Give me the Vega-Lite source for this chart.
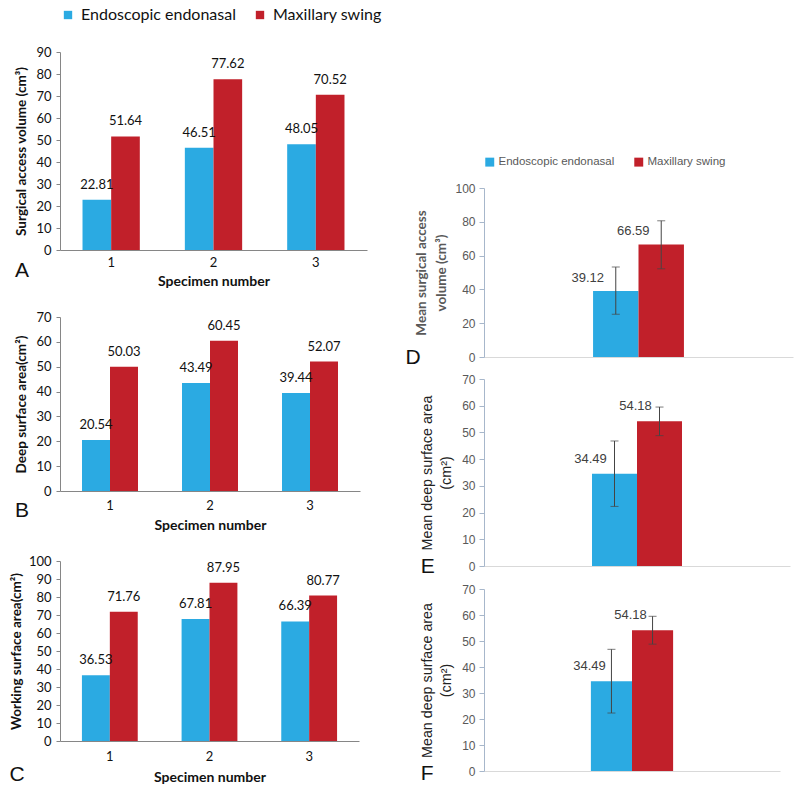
{
  "$schema": "https://vega.github.io/schema/vega-lite/v6.json",
  "padding": {"left": 9, "top": 7, "right": 4, "bottom": 0},
  "background": "white",
  "config": {
    "font": "Lato",
    "view": {"stroke": null},
    "axis": {"grid": false, "labelOverlap": false, "labelBound": false},
    "bar": {"stroke": null}
  },
  "datasets": {
    "A": [
      {"specimen": "1", "approach": "Endoscopic endonasal", "value": 22.81},
      {"specimen": "1", "approach": "Maxillary swing", "value": 51.64},
      {"specimen": "2", "approach": "Endoscopic endonasal", "value": 46.51},
      {"specimen": "2", "approach": "Maxillary swing", "value": 77.62},
      {"specimen": "3", "approach": "Endoscopic endonasal", "value": 48.05},
      {"specimen": "3", "approach": "Maxillary swing", "value": 70.52}
    ],
    "B": [
      {"specimen": "1", "approach": "Endoscopic endonasal", "value": 20.54},
      {"specimen": "1", "approach": "Maxillary swing", "value": 50.03},
      {"specimen": "2", "approach": "Endoscopic endonasal", "value": 43.49},
      {"specimen": "2", "approach": "Maxillary swing", "value": 60.45},
      {"specimen": "3", "approach": "Endoscopic endonasal", "value": 39.44},
      {"specimen": "3", "approach": "Maxillary swing", "value": 52.07}
    ],
    "C": [
      {"specimen": "1", "approach": "Endoscopic endonasal", "value": 36.53},
      {"specimen": "1", "approach": "Maxillary swing", "value": 71.76},
      {"specimen": "2", "approach": "Endoscopic endonasal", "value": 67.81},
      {"specimen": "2", "approach": "Maxillary swing", "value": 87.95},
      {"specimen": "3", "approach": "Endoscopic endonasal", "value": 66.39},
      {"specimen": "3", "approach": "Maxillary swing", "value": 80.77}
    ],
    "D": [
      {"g": "mean", "approach": "Endoscopic endonasal", "value": 39.12, "lo": 25.3, "hi": 53.2},
      {"g": "mean", "approach": "Maxillary swing", "value": 66.59, "lo": 52.2, "hi": 80.6}
    ],
    "E": [
      {"g": "mean", "approach": "Endoscopic endonasal", "value": 34.49, "lo": 22.3, "hi": 46.8},
      {"g": "mean", "approach": "Maxillary swing", "value": 54.18, "lo": 48.8, "hi": 59.5}
    ],
    "F": [
      {"g": "mean", "approach": "Endoscopic endonasal", "value": 34.49, "lo": 22.3, "hi": 46.8},
      {"g": "mean", "approach": "Maxillary swing", "value": 54.18, "lo": 48.8, "hi": 59.5}
    ]
  },
  "resolve": {"scale": {"color": "independent", "xOffset": "independent", "x": "independent", "y": "independent"}},
  "spacing": 23,
  "hconcat": [
    {
      "resolve": {"scale": {"color": "independent", "xOffset": "independent", "x": "independent", "y": "independent"}},
      "spacing": 23,
      "vconcat": [
        {
          "width": 307, "height": 198,
          "data": {"name": "A"},
          "title": {"text": "A", "orient": "bottom", "anchor": "start", "frame": "bounds", "offset": -28, "fontSize": 21, "fontWeight": "normal", "font": "Liberation Sans", "baseline": "top", "color": "#111"},
          "encoding": {
            "x": {"field": "specimen", "type": "nominal", "scale": {"paddingInner": 0.44, "paddingOuter": 0.22},
              "axis": {"title": "Specimen number", "labelAngle": 0, "ticks": false, "domainColor": "#868686", "labelFont": "Lato", "labelFontSize": 13, "labelColor": "#111", "labelPadding": 6, "titleFont": "Lato", "titleFontSize": 14, "titleFontWeight": "bold", "titleColor": "#111", "titlePadding": 5}},
            "xOffset": {"field": "approach", "type": "nominal", "sort": ["Endoscopic endonasal", "Maxillary swing"], "scale": {"paddingInner": 0, "paddingOuter": 0}},
            "y": {"field": "value", "type": "quantitative", "title": "Surgical access volume (cm³)", "scale": {"domain": [0, 90], "nice": false},
              "axis": {"values": [0, 10, 20, 30, 40, 50, 60, 70, 80, 90], "domainColor": "#868686", "tickColor": "#868686", "tickSize": 4, "labelFont": "Lato", "labelFontSize": 13, "labelColor": "#111", "labelPadding": 5, "titleFont": "Lato", "titleFontSize": 13.5, "titleFontWeight": "bold", "titleColor": "#111", "titlePadding": 7}},
            "color": {"field": "approach", "type": "nominal", "scale": {"domain": ["Endoscopic endonasal", "Maxillary swing"], "range": ["#2BAAE2", "#C1202A"]},
              "legend": {"title": null, "orient": "top", "direction": "horizontal", "symbolType": "square", "symbolSize": 70, "labelFont": "Lato", "labelFontSize": 16, "labelColor": "#111", "columnPadding": 16, "offset": 29, "labelOffset": 5, "padding": 0, "symbolOffset": 0}}
          },
          "layer": [
            {"mark": {"type": "bar"}},
            {"mark": {"type": "text", "baseline": "bottom", "dy": -8, "font": "Lato", "fontSize": 13},
              "encoding": {"text": {"field": "value", "type": "quantitative", "format": ".2f"}, "color": {"value": "#111"}}}
          ]
        },
        {
          "width": 300, "height": 174,
          "data": {"name": "B"},
          "title": {"text": "B", "orient": "bottom", "anchor": "start", "frame": "bounds", "offset": -32, "fontSize": 21, "fontWeight": "normal", "font": "Liberation Sans", "baseline": "top", "color": "#111"},
          "encoding": {
            "x": {"field": "specimen", "type": "nominal", "scale": {"paddingInner": 0.44, "paddingOuter": 0.22},
              "axis": {"title": "Specimen number", "labelAngle": 0, "ticks": false, "domainColor": "#868686", "labelFont": "Lato", "labelFontSize": 13, "labelColor": "#111", "labelPadding": 8, "titleFont": "Lato", "titleFontSize": 14, "titleFontWeight": "bold", "titleColor": "#111", "titlePadding": 6}},
            "xOffset": {"field": "approach", "type": "nominal", "sort": ["Endoscopic endonasal", "Maxillary swing"], "scale": {"paddingInner": 0, "paddingOuter": 0}},
            "y": {"field": "value", "type": "quantitative", "title": "Deep surface area(cm²)", "scale": {"domain": [0, 70], "nice": false},
              "axis": {"values": [0, 10, 20, 30, 40, 50, 60, 70], "domainColor": "#868686", "tickColor": "#868686", "tickSize": 4, "labelFont": "Lato", "labelFontSize": 13, "labelColor": "#111", "labelPadding": 5, "titleFont": "Lato", "titleFontSize": 13.5, "titleFontWeight": "bold", "titleColor": "#111", "titlePadding": 7}},
            "color": {"field": "approach", "type": "nominal", "scale": {"domain": ["Endoscopic endonasal", "Maxillary swing"], "range": ["#2BAAE2", "#C1202A"]}, "legend": null}
          },
          "layer": [
            {"mark": {"type": "bar"}},
            {"mark": {"type": "text", "baseline": "bottom", "dy": -8, "font": "Lato", "fontSize": 13},
              "encoding": {"text": {"field": "value", "type": "quantitative", "format": ".2f"}, "color": {"value": "#111"}}}
          ]
        },
        {
          "width": 299, "height": 180,
          "data": {"name": "C"},
          "title": {"text": "C", "orient": "bottom", "anchor": "start", "frame": "bounds", "offset": -20, "fontSize": 21, "fontWeight": "normal", "font": "Liberation Sans", "baseline": "top", "color": "#111"},
          "encoding": {
            "x": {"field": "specimen", "type": "nominal", "scale": {"paddingInner": 0.44, "paddingOuter": 0.22},
              "axis": {"title": "Specimen number", "labelAngle": 0, "ticks": false, "domainColor": "#868686", "labelFont": "Lato", "labelFontSize": 13, "labelColor": "#111", "labelPadding": 9, "titleFont": "Lato", "titleFontSize": 14, "titleFontWeight": "bold", "titleColor": "#111", "titlePadding": 7}},
            "xOffset": {"field": "approach", "type": "nominal", "sort": ["Endoscopic endonasal", "Maxillary swing"], "scale": {"paddingInner": 0, "paddingOuter": 0}},
            "y": {"field": "value", "type": "quantitative", "title": "Working surface area(cm²)", "scale": {"domain": [0, 100], "nice": false},
              "axis": {"values": [0, 10, 20, 30, 40, 50, 60, 70, 80, 90, 100], "domainColor": "#868686", "tickColor": "#868686", "tickSize": 4, "labelFont": "Lato", "labelFontSize": 13, "labelColor": "#111", "labelPadding": 5, "titleFont": "Lato", "titleFontSize": 13.5, "titleFontWeight": "bold", "titleColor": "#111", "titlePadding": 5}},
            "color": {"field": "approach", "type": "nominal", "scale": {"domain": ["Endoscopic endonasal", "Maxillary swing"], "range": ["#2BAAE2", "#C1202A"]}, "legend": null}
          },
          "layer": [
            {"mark": {"type": "bar"}},
            {"mark": {"type": "text", "baseline": "bottom", "dy": -8, "font": "Lato", "fontSize": 13},
              "encoding": {"text": {"field": "value", "type": "quantitative", "format": ".2f"}, "color": {"value": "#111"}}}
          ]
        }
      ]
    },
    {
      "resolve": {"scale": {"color": "independent", "xOffset": "independent", "x": "independent", "y": "independent"}},
      "spacing": 6,
      "vconcat": [
        {
          "width": 300, "height": 98,
          "data": {"values": []},
          "mark": {"type": "point", "opacity": 0}
        },
        {
          "width": 309, "height": 169,
          "data": {"name": "D"},
          "encoding": {
            "x": {"field": "g", "type": "nominal", "scale": {"paddingInner": 0.5, "paddingOuter": 0.6},
              "axis": {"title": "D", "labels": false, "ticks": false, "domainColor": "#D9D9D9", "titleX": -79, "titleY": -11, "titleAlign": "left", "titleBaseline": "top", "titleFont": "Liberation Sans", "titleFontSize": 21, "titleFontWeight": "normal", "titleColor": "#111"}},
            "xOffset": {"field": "approach", "type": "nominal", "sort": ["Endoscopic endonasal", "Maxillary swing"], "scale": {"paddingInner": 0, "paddingOuter": 0}},
            "color": {"field": "approach", "type": "nominal", "scale": {"domain": ["Endoscopic endonasal", "Maxillary swing"], "range": ["#2BAAE2", "#C1202A"]},
              "legend": {"title": null, "orient": "top", "direction": "horizontal", "symbolType": "square", "symbolSize": 80, "labelFont": "Liberation Sans", "labelFontSize": 11.5, "labelColor": "#595959", "columnPadding": 18, "offset": 20, "labelOffset": 3,
                "encode": {"symbols": {"update": {"fill": {"signal": "datum.value === 'Endoscopic endonasal' ? '#4A7EC0' : '#C0202A'"}}}}}}
          },
          "layer": [
            {"mark": {"type": "bar"},
              "encoding": {"y": {"field": "value", "type": "quantitative", "title": ["Mean surgical access", "volume (cm³)"], "scale": {"domain": [0, 100], "nice": false},
                "axis": {"values": [0, 20, 40, 60, 80, 100], "domainColor": "#A7B7CB", "tickColor": "#A7B7CB", "tickSize": 5, "labelFont": "Liberation Sans", "labelFontSize": 12, "labelColor": "#595959", "labelPadding": 4, "titleFont": "Lato", "titleFontSize": 13.5, "titleFontWeight": "bold", "titleColor": "#595959", "titlePadding": 6, "titleLineHeight": 20}}}},
            {"mark": {"type": "rule", "strokeWidth": 1},
              "encoding": {"y": {"field": "lo", "type": "quantitative", "title": ["Mean surgical access", "volume (cm³)"], "scale": {"domain": [0, 100], "nice": false},
                "axis": {"values": [0, 20, 40, 60, 80, 100], "domainColor": "#A7B7CB", "tickColor": "#A7B7CB", "tickSize": 5, "labelFont": "Liberation Sans", "labelFontSize": 12, "labelColor": "#595959", "labelPadding": 4, "titleFont": "Lato", "titleFontSize": 13.5, "titleFontWeight": "bold", "titleColor": "#595959", "titlePadding": 6, "titleLineHeight": 20}}, "y2": {"field": "hi"}, "color": {"value": "#444444"}}},
            {"mark": {"type": "tick", "orient": "horizontal", "size": 8, "thickness": 1},
              "encoding": {"y": {"field": "lo", "type": "quantitative", "title": ["Mean surgical access", "volume (cm³)"], "scale": {"domain": [0, 100], "nice": false},
                "axis": {"values": [0, 20, 40, 60, 80, 100], "domainColor": "#A7B7CB", "tickColor": "#A7B7CB", "tickSize": 5, "labelFont": "Liberation Sans", "labelFontSize": 12, "labelColor": "#595959", "labelPadding": 4, "titleFont": "Lato", "titleFontSize": 13.5, "titleFontWeight": "bold", "titleColor": "#595959", "titlePadding": 6, "titleLineHeight": 20}}, "color": {"value": "#444444"}}},
            {"mark": {"type": "tick", "orient": "horizontal", "size": 8, "thickness": 1},
              "encoding": {"y": {"field": "hi", "type": "quantitative", "title": ["Mean surgical access", "volume (cm³)"], "scale": {"domain": [0, 100], "nice": false},
                "axis": {"values": [0, 20, 40, 60, 80, 100], "domainColor": "#A7B7CB", "tickColor": "#A7B7CB", "tickSize": 5, "labelFont": "Liberation Sans", "labelFontSize": 12, "labelColor": "#595959", "labelPadding": 4, "titleFont": "Lato", "titleFontSize": 13.5, "titleFontWeight": "bold", "titleColor": "#595959", "titlePadding": 6, "titleLineHeight": 20}}, "color": {"value": "#444444"}}},
            {"mark": {"type": "text", "baseline": "bottom", "dx": -28, "dy": -6, "font": "Liberation Sans", "fontSize": 13},
              "encoding": {"y": {"field": "value", "type": "quantitative", "title": ["Mean surgical access", "volume (cm³)"], "scale": {"domain": [0, 100], "nice": false},
                "axis": {"values": [0, 20, 40, 60, 80, 100], "domainColor": "#A7B7CB", "tickColor": "#A7B7CB", "tickSize": 5, "labelFont": "Liberation Sans", "labelFontSize": 12, "labelColor": "#595959", "labelPadding": 4, "titleFont": "Lato", "titleFontSize": 13.5, "titleFontWeight": "bold", "titleColor": "#595959", "titlePadding": 6, "titleLineHeight": 20}}, "text": {"field": "value", "type": "quantitative", "format": ".2f"}, "color": {"value": "#404040"}}}
          ]
        },
        {
          "width": 306, "height": 187,
          "data": {"name": "E"},
          "title": {"text": "E", "orient": "bottom", "anchor": "start", "frame": "bounds", "offset": -16, "fontSize": 21, "fontWeight": "normal", "font": "Liberation Sans", "baseline": "top", "color": "#111"},
          "encoding": {
            "x": {"field": "g", "type": "nominal", "scale": {"paddingInner": 0.5, "paddingOuter": 0.6}, "axis": {"title": null, "labels": false, "ticks": false, "domainColor": "#D9D9D9"}},
            "xOffset": {"field": "approach", "type": "nominal", "sort": ["Endoscopic endonasal", "Maxillary swing"], "scale": {"paddingInner": 0, "paddingOuter": 0}},
            "color": {"field": "approach", "type": "nominal", "scale": {"domain": ["Endoscopic endonasal", "Maxillary swing"], "range": ["#2BAAE2", "#C1202A"]}, "legend": null}
          },
          "layer": [
            {"mark": {"type": "bar"},
              "encoding": {"y": {"field": "value", "type": "quantitative", "title": ["Mean deep surface area", "(cm²)"], "scale": {"domain": [0, 70], "nice": false},
                "axis": {"values": [0, 10, 20, 30, 40, 50, 60, 70], "domainColor": "#A7B7CB", "tickColor": "#A7B7CB", "tickSize": 5, "labelFont": "Liberation Sans", "labelFontSize": 12, "labelColor": "#595959", "labelPadding": 4, "titleFont": "Liberation Sans", "titleFontSize": 14.3, "titleFontWeight": "normal", "titleColor": "#222", "titlePadding": 8, "titleLineHeight": 19}}}},
            {"mark": {"type": "rule", "strokeWidth": 1},
              "encoding": {"y": {"field": "lo", "type": "quantitative", "title": ["Mean deep surface area", "(cm²)"], "scale": {"domain": [0, 70], "nice": false},
                "axis": {"values": [0, 10, 20, 30, 40, 50, 60, 70], "domainColor": "#A7B7CB", "tickColor": "#A7B7CB", "tickSize": 5, "labelFont": "Liberation Sans", "labelFontSize": 12, "labelColor": "#595959", "labelPadding": 4, "titleFont": "Liberation Sans", "titleFontSize": 14.3, "titleFontWeight": "normal", "titleColor": "#222", "titlePadding": 8, "titleLineHeight": 19}}, "y2": {"field": "hi"}, "color": {"value": "#444444"}}},
            {"mark": {"type": "tick", "orient": "horizontal", "size": 8, "thickness": 1},
              "encoding": {"y": {"field": "lo", "type": "quantitative", "title": ["Mean deep surface area", "(cm²)"], "scale": {"domain": [0, 70], "nice": false},
                "axis": {"values": [0, 10, 20, 30, 40, 50, 60, 70], "domainColor": "#A7B7CB", "tickColor": "#A7B7CB", "tickSize": 5, "labelFont": "Liberation Sans", "labelFontSize": 12, "labelColor": "#595959", "labelPadding": 4, "titleFont": "Liberation Sans", "titleFontSize": 14.3, "titleFontWeight": "normal", "titleColor": "#222", "titlePadding": 8, "titleLineHeight": 19}}, "color": {"value": "#444444"}}},
            {"mark": {"type": "tick", "orient": "horizontal", "size": 8, "thickness": 1},
              "encoding": {"y": {"field": "hi", "type": "quantitative", "title": ["Mean deep surface area", "(cm²)"], "scale": {"domain": [0, 70], "nice": false},
                "axis": {"values": [0, 10, 20, 30, 40, 50, 60, 70], "domainColor": "#A7B7CB", "tickColor": "#A7B7CB", "tickSize": 5, "labelFont": "Liberation Sans", "labelFontSize": 12, "labelColor": "#595959", "labelPadding": 4, "titleFont": "Liberation Sans", "titleFontSize": 14.3, "titleFontWeight": "normal", "titleColor": "#222", "titlePadding": 8, "titleLineHeight": 19}}, "color": {"value": "#444444"}}},
            {"mark": {"type": "text", "baseline": "middle", "dx": -24, "dy": -15, "font": "Liberation Sans", "fontSize": 13},
              "encoding": {"y": {"field": "value", "type": "quantitative", "title": ["Mean deep surface area", "(cm²)"], "scale": {"domain": [0, 70], "nice": false},
                "axis": {"values": [0, 10, 20, 30, 40, 50, 60, 70], "domainColor": "#A7B7CB", "tickColor": "#A7B7CB", "tickSize": 5, "labelFont": "Liberation Sans", "labelFontSize": 12, "labelColor": "#595959", "labelPadding": 4, "titleFont": "Liberation Sans", "titleFontSize": 14.3, "titleFontWeight": "normal", "titleColor": "#222", "titlePadding": 8, "titleLineHeight": 19}}, "text": {"field": "value", "type": "quantitative", "format": ".2f"}, "color": {"value": "#404040"}}}
          ]
        },
        {
          "width": 296, "height": 182,
          "data": {"name": "F"},
          "title": {"text": "F", "orient": "bottom", "anchor": "start", "frame": "bounds", "offset": -14, "fontSize": 21, "fontWeight": "normal", "font": "Liberation Sans", "baseline": "top", "color": "#111"},
          "encoding": {
            "x": {"field": "g", "type": "nominal", "scale": {"paddingInner": 0.5, "paddingOuter": 0.65}, "axis": {"title": null, "labels": false, "ticks": false, "domainColor": "#D9D9D9"}},
            "xOffset": {"field": "approach", "type": "nominal", "sort": ["Endoscopic endonasal", "Maxillary swing"], "scale": {"paddingInner": 0, "paddingOuter": 0}},
            "color": {"field": "approach", "type": "nominal", "scale": {"domain": ["Endoscopic endonasal", "Maxillary swing"], "range": ["#2BAAE2", "#C1202A"]}, "legend": null}
          },
          "layer": [
            {"mark": {"type": "bar"},
              "encoding": {"y": {"field": "value", "type": "quantitative", "title": ["Mean deep surface area", "(cm²)"], "scale": {"domain": [0, 70], "nice": false},
                "axis": {"values": [0, 10, 20, 30, 40, 50, 60, 70], "domainColor": "#A7B7CB", "tickColor": "#A7B7CB", "tickSize": 5, "labelFont": "Liberation Sans", "labelFontSize": 12, "labelColor": "#595959", "labelPadding": 4, "titleFont": "Liberation Sans", "titleFontSize": 14.3, "titleFontWeight": "normal", "titleColor": "#222", "titlePadding": 8, "titleLineHeight": 19}}}},
            {"mark": {"type": "rule", "strokeWidth": 1},
              "encoding": {"y": {"field": "lo", "type": "quantitative", "title": ["Mean deep surface area", "(cm²)"], "scale": {"domain": [0, 70], "nice": false},
                "axis": {"values": [0, 10, 20, 30, 40, 50, 60, 70], "domainColor": "#A7B7CB", "tickColor": "#A7B7CB", "tickSize": 5, "labelFont": "Liberation Sans", "labelFontSize": 12, "labelColor": "#595959", "labelPadding": 4, "titleFont": "Liberation Sans", "titleFontSize": 14.3, "titleFontWeight": "normal", "titleColor": "#222", "titlePadding": 8, "titleLineHeight": 19}}, "y2": {"field": "hi"}, "color": {"value": "#444444"}}},
            {"mark": {"type": "tick", "orient": "horizontal", "size": 8, "thickness": 1},
              "encoding": {"y": {"field": "lo", "type": "quantitative", "title": ["Mean deep surface area", "(cm²)"], "scale": {"domain": [0, 70], "nice": false},
                "axis": {"values": [0, 10, 20, 30, 40, 50, 60, 70], "domainColor": "#A7B7CB", "tickColor": "#A7B7CB", "tickSize": 5, "labelFont": "Liberation Sans", "labelFontSize": 12, "labelColor": "#595959", "labelPadding": 4, "titleFont": "Liberation Sans", "titleFontSize": 14.3, "titleFontWeight": "normal", "titleColor": "#222", "titlePadding": 8, "titleLineHeight": 19}}, "color": {"value": "#444444"}}},
            {"mark": {"type": "tick", "orient": "horizontal", "size": 8, "thickness": 1},
              "encoding": {"y": {"field": "hi", "type": "quantitative", "title": ["Mean deep surface area", "(cm²)"], "scale": {"domain": [0, 70], "nice": false},
                "axis": {"values": [0, 10, 20, 30, 40, 50, 60, 70], "domainColor": "#A7B7CB", "tickColor": "#A7B7CB", "tickSize": 5, "labelFont": "Liberation Sans", "labelFontSize": 12, "labelColor": "#595959", "labelPadding": 4, "titleFont": "Liberation Sans", "titleFontSize": 14.3, "titleFontWeight": "normal", "titleColor": "#222", "titlePadding": 8, "titleLineHeight": 19}}, "color": {"value": "#444444"}}},
            {"mark": {"type": "text", "baseline": "middle", "dx": -22, "dy": -15, "font": "Liberation Sans", "fontSize": 13},
              "encoding": {"y": {"field": "value", "type": "quantitative", "title": ["Mean deep surface area", "(cm²)"], "scale": {"domain": [0, 70], "nice": false},
                "axis": {"values": [0, 10, 20, 30, 40, 50, 60, 70], "domainColor": "#A7B7CB", "tickColor": "#A7B7CB", "tickSize": 5, "labelFont": "Liberation Sans", "labelFontSize": 12, "labelColor": "#595959", "labelPadding": 4, "titleFont": "Liberation Sans", "titleFontSize": 14.3, "titleFontWeight": "normal", "titleColor": "#222", "titlePadding": 8, "titleLineHeight": 19}}, "text": {"field": "value", "type": "quantitative", "format": ".2f"}, "color": {"value": "#404040"}}}
          ]
        }
      ]
    }
  ]
}
